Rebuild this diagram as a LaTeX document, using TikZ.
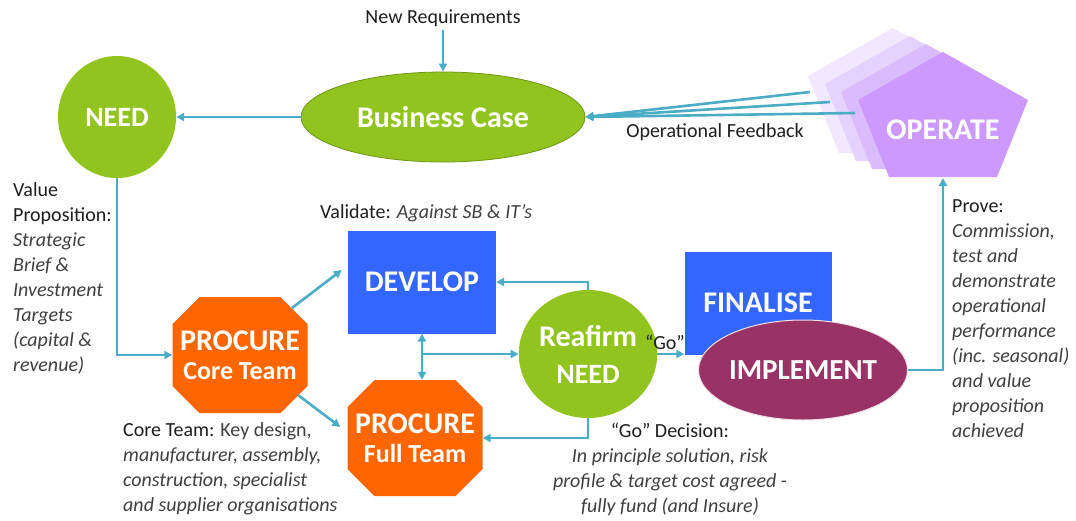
\documentclass[tikz,border=0pt]{standalone}
\usepackage{fontspec}
\setmainfont{Carlito}
\usetikzlibrary{shapes.geometric,arrows.meta,calc}
\definecolor{lgreen}{RGB}{146,196,32}
\definecolor{lgreenedge}{RGB}{110,150,20}
\definecolor{lteal}{RGB}{75,172,198}
\definecolor{dblue}{RGB}{51,102,255}
\definecolor{orng}{RGB}{255,102,0}
\definecolor{maroon}{RGB}{153,51,102}
\definecolor{purp}{RGB}{204,153,255}
\definecolor{pg1}{RGB}{218,188,253}
\definecolor{pg2}{RGB}{230,210,254}
\definecolor{pg3}{RGB}{241,231,255}
\definecolor{txtdark}{RGB}{30,30,30}
\definecolor{txtgrey}{RGB}{64,64,64}
\newcommand{\ig}[1]{{\itshape\color{txtgrey}#1}}
\newcommand{\rg}[1]{{\color{txtgrey}#1}}
\begin{document}
\begin{tikzpicture}[x=1pt,y=-1pt,
  arr/.style={draw=lteal, line width=2.6pt, -{Triangle[length=8pt,width=8pt]}},
  lbl/.style={font=\fontsize{20}{25}\selectfont, text=txtdark, inner sep=0pt},
  bigtxt/.style={text=white, font=\bfseries\fontsize{30}{36}\selectfont, inner sep=0pt, align=center},
  greenell/.style={ellipse, fill=lgreen, bigtxt},
  bluebox/.style={rectangle, fill=dblue, bigtxt},
  octo/.style={rectangle, minimum width=135pt, minimum height=116pt, bigtxt, font=\bfseries\fontsize{30}{29}\selectfont}
]
\useasboundingbox[fill=white] (0,0) rectangle (1076,520);

% ghost pentagons and OPERATE
\foreach \dx/\dy/\c in {-50/-24/pg3,-33/-16/pg2,-17/-8/pg1,0/0/purp}{
  \begin{scope}[shift={(\dx,\dy)}]
    \fill[\c] (943,52) -- (1028,100) -- (997,177) -- (889,177) -- (858,100) -- cycle;
  \end{scope}
}
\node[bigtxt] (op) at (943,130) {OPERATE};
\coordinate (opbot) at (943,178);

% octagon backgrounds
\foreach \cx/\cy in {240/355,415/438}{
  \begin{scope}[shift={(\cx,\cy)}]
    \fill[orng] (-40.5,-58) -- (40.5,-58) -- (67.5,-31) -- (67.5,31) -- (40.5,58) -- (-40.5,58) -- (-67.5,31) -- (-67.5,-31) -- cycle;
  \end{scope}
}

% main nodes
\node[greenell, minimum width=118pt, minimum height=122pt, font=\bfseries\fontsize{28}{34}\selectfont] (need) at (117,117) {NEED};
\node[greenell, draw=lgreenedge, line width=0.8pt, minimum width=284pt, minimum height=90pt] (bc) at (443,117) {Business Case};
\node[bluebox, minimum width=148pt, minimum height=103pt] (dev) at (422,282) {DEVELOP};
\node[bluebox, minimum width=147pt, minimum height=103pt] (fin) at (758,303) {FINALISE};
\node[ellipse, fill=maroon, draw=white!85!maroon, line width=1pt, bigtxt, font=\bfseries\fontsize{29}{34}\selectfont,
      minimum width=167pt, minimum height=100pt] (impl) at (803,370) {IMPLEMENT};
\node[greenell, minimum width=121pt, minimum height=128pt] (rn) at (588,354)
   {Reafirm\\[1pt]{\fontsize{28}{34}\selectfont NEED}};
\node[octo] (pc) at (240,355) {PROCURE\\{\fontsize{26}{29}\selectfont Core Team}};
\node[octo] (pf) at (415,438) {PROCURE\\{\fontsize{26}{29}\selectfont Full Team}};

% labels
\node[lbl, anchor=base] (newreq) at (443,23) {New Requirements};
\node[lbl, anchor=base] (opfb) at (715,137) {Operational Feedback};
\node[lbl, anchor=base west] (valid) at (320,218) {Validate: \ig{Against SB \& IT’s}};
\node[lbl, anchor=base] (go) at (665,349) {“Go”};
\node[lbl, anchor=north west, align=left] (vp) at (13,182)
  {Value\\Proposition:\\\ig{Strategic}\\\ig{Brief \&}\\\ig{Investment}\\\ig{Targets}\\\ig{(capital \&}\\\ig{revenue)}};
\node[lbl, anchor=north west, align=left] (ct) at (123,422)
  {Core Team: \rg{Key design,}\\\ig{manufacturer, assembly,}\\\ig{construction, specialist}\\\ig{and supplier organisations}};
\node[lbl, anchor=north, align=center] (gd) at (670,423)
  {“Go” Decision:\\\ig{In principle solution, risk}\\\ig{profile \& target cost agreed -}\\\ig{fully fund (and Insure)}};
\node[lbl, anchor=north west, align=left] (pv) at (952,199)
  {Prove:\\\ig{Commission,}\\\ig{test and}\\\ig{demonstrate}\\\ig{operational}\\\ig{performance}\\\ig{(inc. seasonal)}\\\ig{and value}\\\ig{proposition}\\\ig{achieved}};

% feedback start points
\coordinate (fb1) at (810,92);
\coordinate (fb2) at (830,102);
\coordinate (fb3) at (855,113);

% connectors
\draw[arr] (newreq.south |- 0,30) -- (bc.north);
\draw[arr] (bc.west) -- (need.east);
\draw[arr] (fb1) -- (bc.east);
\draw[arr] (fb2) -- (bc.east);
\draw[arr] (fb3) -- (bc.east);
\draw[arr] (need.south) |- (pc.west);
\draw[arr] ($(pc.center)+(52,-47)$) -- ($(dev.west)+(-6,-12)$);
\draw[arr] ($(pc.center)+(58,40)$) -- ($(pf.west)+(-7,-11)$);
\draw[arr, {Triangle[length=8pt,width=8pt]}-{Triangle[length=8pt,width=8pt]}] (dev.south) -- (dev.south |- pf.north);
\draw[arr] (dev.south |- rn.west) -- (rn.west);
\draw[arr] (rn.north) |- (dev.east);
\draw[arr] (rn.south) |- (pf.east);
\draw[arr] (rn.east) -- (fin.west |- rn.east);
\draw[arr] (impl.east) -| (opbot);
\end{tikzpicture}
\end{document}
